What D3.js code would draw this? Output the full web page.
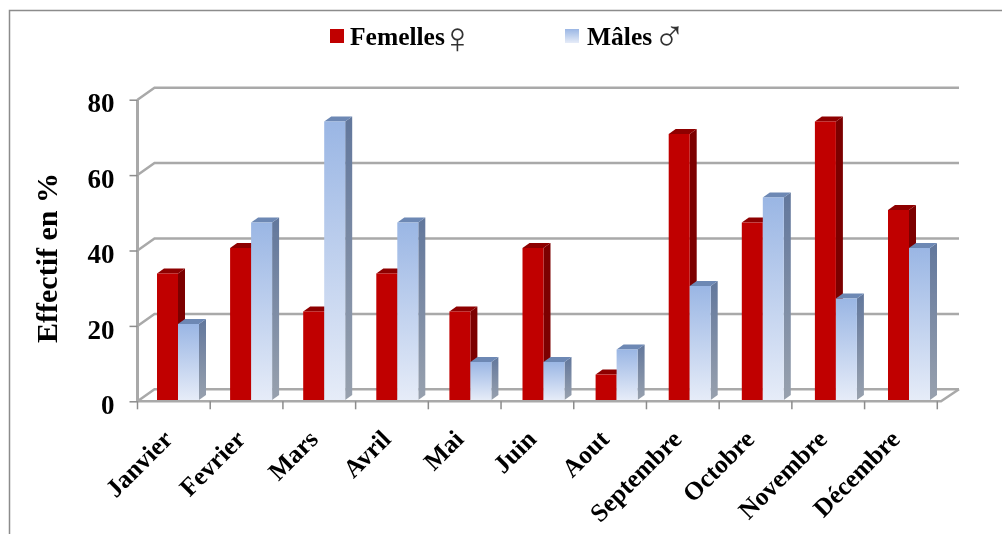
<!DOCTYPE html>
<html>
<head>
<meta charset="utf-8">
<script src="https://cdn.jsdelivr.net/npm/d3@7"></script>
<style>
  html, body { margin: 0; padding: 0; background: #fff; overflow: hidden; }
  text { font-family: "Liberation Serif", serif; font-weight: bold; fill: #000; }
</style>
</head>
<body>
<div id="d3-container"></div>
<script>
/* DATA */
const months = ["Janvier", "Fevrier", "Mars", "Avril", "Mai", "Juin", "Aout", "Septembre", "Octobre", "Novembre", "Décembre"];
const femelles = [33.3, 40, 23.3, 33.3, 23.3, 40, 6.7, 70, 46.7, 73.3, 50];
const males = [20, 46.7, 73.3, 46.7, 10, 10, 13.3, 30, 53.3, 26.7, 40];
const yTicks = [0, 20, 40, 60, 80];
const seriesNames = ["femelles", "males"];

/* CONSTANTS */
const width = 1002,
  height = 534,
  depthX = 17,   // floor depth of the fake 3d box
  depthY = 12,
  barDX = 7,     // depth of a bar
  barDY = 5;

const svg = d3.select("#d3-container")
  .append("svg")
  .attr("width", width)
  .attr("height", height);

/* GRADIENTS */
const defs = svg.append("defs");
function vGrad(id, top, bottom) {
  const g = defs.append("linearGradient").attr("id", id)
    .attr("x1", 0).attr("y1", 0).attr("x2", 0).attr("y2", 1);
  g.append("stop").attr("offset", "0%").attr("stop-color", top);
  g.append("stop").attr("offset", "100%").attr("stop-color", bottom);
}
// heights differ, so the gradient follows each bar's own box like the original
vGrad("maleFront", "#9ab6e4", "#e6ecf8");
vGrad("maleSide", "#62779c", "#98a1ae");
defs.append("filter").attr("id", "soft")
  .append("feGaussianBlur").attr("stdDeviation", 0.45);

const root = svg.append("g").attr("filter", "url(#soft)");

/* FRAME */
root.append("path")
  .attr("d", "M9.5,534V10.5H1002")
  .attr("fill", "none").attr("stroke", "#8c8c8c").attr("stroke-width", 1.5);

/* SCALES */
const xBar = d3.scaleBand().domain(months).range([137.5, 941.6]);  // bars run a bit wider than the ticks
const xTick = d3.scaleBand().domain(months).range([137.5, 937.3]);
const xSeries = d3.scaleBand().domain(seriesNames).range([19.5, 61.5]);
const yAxisScale = d3.scaleLinear().domain([0, 80]).range([401.3, 99.7]);
const yBar = d3.scaleLinear().domain([0, 80]).range([400, 96]);

/* GRID */
const gridColor = "#a9a9a9";
const grid = root.append("g").attr("fill", "none").attr("stroke", gridColor).attr("stroke-width", 2.5);
grid.selectAll("path")
  .data(yTicks)
  .join("path")
  .attr("d", d => {
    const y = yAxisScale(d);
    return `M137.5,${y}L${137.5 + depthX},${y - depthY}H959`;
  });
// floor front edge and right slant
grid.append("path")
  .attr("d", `M137.5,${yAxisScale(0)}H941L959,${yAxisScale(0) - depthY}`);
// value axis
grid.append("path")
  .attr("stroke-width", 3)
  .attr("d", `M137.5,${yAxisScale(80)}V${yAxisScale(0)}`);

/* TICKS */
const yAxis = d3.axisLeft(yAxisScale).tickValues(yTicks).tickSize(8).tickPadding(15);
const yG = root.append("g")
  .attr("transform", "translate(137.5,0)")
  .call(yAxis);
yG.select(".domain").remove();
yG.selectAll("line").attr("stroke", "#8c8c8c").attr("stroke-width", 1.5);
yG.selectAll("text")
  .attr("font-size", 27)
  .attr("dy", "0.45em")
  .attr("font-family", "Liberation Serif")
  .attr("fill", "#000");

const xTickValues = months.map(m => xTick(m)).concat([937.3]);
root.append("g").selectAll("line")
  .data(xTickValues)
  .join("line")
  .attr("x1", d => d).attr("x2", d => d)
  .attr("y1", yAxisScale(0)).attr("y2", yAxisScale(0) + 8)
  .attr("stroke", "#8c8c8c").attr("stroke-width", 1.5);

/* BARS */
function drawBars(values, key, frontFill, sideFill, topFill) {
  const g = root.append("g").selectAll("g")
    .data(values.map((v, i) => ({ v, m: months[i] })))
    .join("g");
  const left = d => xBar(d.m) + xSeries(key);
  const w = xSeries.bandwidth();
  g.append("path") // side
    .attr("fill", sideFill)
    .attr("d", d => {
      const x = left(d) + w, t = yBar(d.v), b = yBar(0);
      return `M${x},${t}L${x + barDX},${t - barDY}V${b - barDY}L${x},${b}Z`;
    });
  g.append("path") // top
    .attr("fill", topFill)
    .attr("d", d => {
      const x = left(d), t = yBar(d.v);
      return `M${x},${t}L${x + barDX},${t - barDY}H${x + w + barDX}L${x + w},${t}Z`;
    });
  g.append("rect") // front
    .attr("x", left)
    .attr("y", d => yBar(d.v))
    .attr("width", w)
    .attr("height", d => yBar(0) - yBar(d.v))
    .attr("fill", frontFill);
}
drawBars(femelles, "femelles", "#c00000", "#7c0000", "#8e0000");
drawBars(males, "males", "url(#maleFront)", "url(#maleSide)", "#6d88b4");

/* X LABELS */
root.append("g").selectAll("text")
  .data(months)
  .join("text")
  .attr("font-size", 25.5)
  .attr("text-anchor", "end")
  .attr("transform", d => `translate(${xTick(d) + 24},428) rotate(-45)`)
  .attr("dy", "0.7em")
  .text(d => d);

/* Y TITLE */
root.append("text")
  .attr("font-size", 30)
  .attr("text-anchor", "middle")
  .attr("transform", "translate(57,258) rotate(-90)")
  .text("Effectif en %");

/* LEGEND */
root.append("rect").attr("x", 330).attr("y", 29).attr("width", 14).attr("height", 14).attr("fill", "#c00000");
root.append("text").attr("x", 350).attr("y", 45).attr("font-size", 25.5).text("Femelles");
root.append("rect").attr("x", 565).attr("y", 29).attr("width", 14).attr("height", 14).attr("fill", "url(#maleFront)");
root.append("text").attr("x", 587).attr("y", 45).attr("font-size", 25.5).text("Mâles");
root.append("text").attr("x", 441).attr("y", 53).attr("font-size", 44)
  .style("font-weight", "normal").style("fill", "#333").text("♀");
root.append("text").attr("x", 653).attr("y", 50.5).attr("font-size", 44)
  .style("font-weight", "normal").style("fill", "#333").text("♂");
</script>
</body>
</html>
